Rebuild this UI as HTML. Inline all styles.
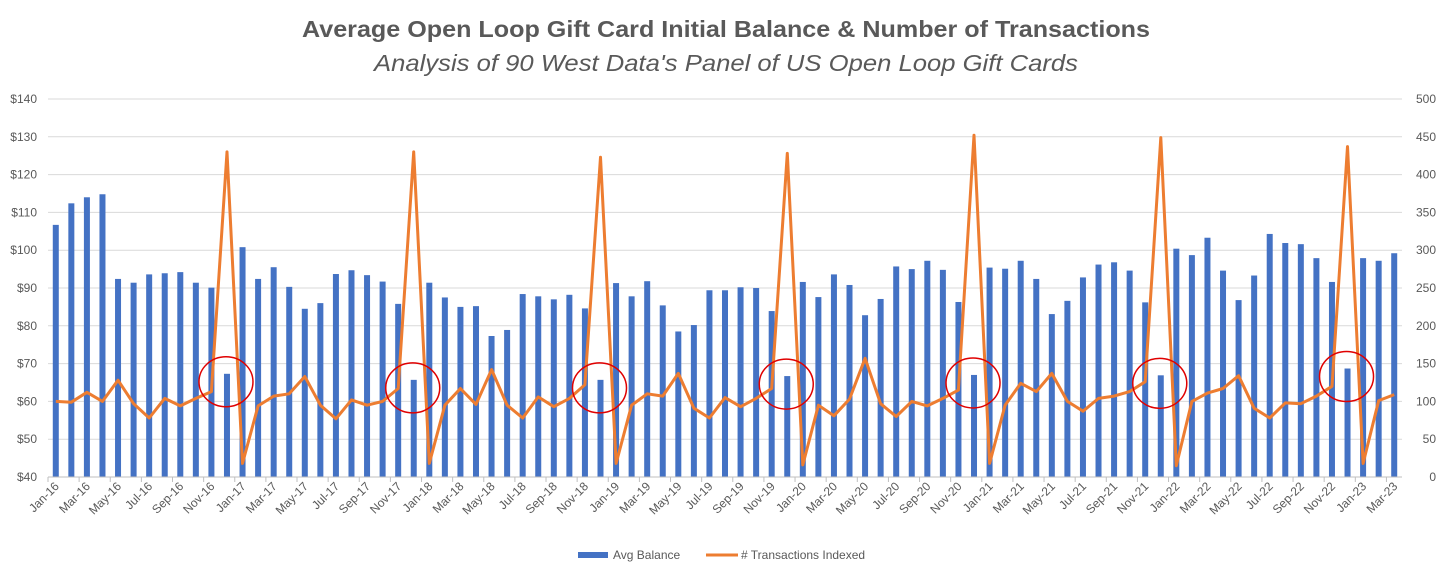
<!DOCTYPE html>
<html><head><meta charset="utf-8"><style>
body{margin:0;background:#fff;}
svg{display:block;font-family:"Liberation Sans",sans-serif;}
</style></head><body>
<svg id="chart" width="1456" height="572">
<text x="726" y="37" text-anchor="middle" font-size="23" font-weight="bold" fill="#595959" textLength="848" lengthAdjust="spacingAndGlyphs">Average Open Loop Gift Card Initial Balance &amp; Number of Transactions</text>
<text x="726" y="71" text-anchor="middle" font-size="23" font-style="italic" fill="#595959" textLength="704" lengthAdjust="spacingAndGlyphs">Analysis of 90 West Data's Panel of US Open Loop Gift Cards</text>
<g id="grid"></g><g id="bars"></g><g id="line"></g><g id="circles"></g><g id="axes"></g>
<g>
<rect x="578" y="552" width="30" height="6" fill="#4472C4"/>
<text x="613" y="559" font-size="12" fill="#595959">Avg Balance</text>
<line x1="706" y1="555" x2="738" y2="555" stroke="#ED7D31" stroke-width="3"/>
<text x="741" y="559" font-size="12" fill="#595959"># Transactions Indexed</text>
</g>
</svg>
<script>
const months=["Jan","Feb","Mar","Apr","May","Jun","Jul","Aug","Sep","Oct","Nov","Dec"];
const categories=[];
for(let y=16;y<=23;y++){for(let m=0;m<12;m++){if(y===23&&m>2)break;categories.push(months[m]+"-"+y);}}
const avgBalance=[106.7,112.4,114,114.8,92.4,91.4,93.6,93.9,94.2,91.4,90.1,67.3,
100.8,92.4,95.5,90.3,84.5,86,93.7,94.7,93.4,91.7,85.8,65.7,
91.4,87.5,85,85.2,77.3,78.9,88.4,87.8,87,88.2,84.6,65.7,
91.3,87.8,91.8,85.4,78.5,80.2,89.4,89.4,90.2,90,83.9,66.7,
91.6,87.6,93.6,90.8,82.8,87.1,95.7,95,97.2,94.8,86.3,67,
95.4,95.1,97.2,92.4,83.1,86.6,92.8,96.2,96.8,94.6,86.2,66.9,
100.4,98.7,103.3,94.6,86.8,93.3,104.3,101.9,101.6,97.9,91.6,68.7,
97.9,97.2,99.2];
const transactions=[100,99,112,100,128,97,78,104,94,104,113,430,
18,94,107,110,133,95,77,102,95,100,117,430,
18,95,117,96,142,95,78,106,93,104,122,423,
18,95,110,107,137,91,78,105,93,104,117,428,
16,95,81,103,157,97,80,100,94,104,115,452,
18,95,124,113,137,100,87,104,107,113,126,449,
15,100,111,117,134,91,78,98,97,107,120,437,
18,101,109];
const leftTicks=[40,50,60,70,80,90,100,110,120,130,140];
const rightTicks=[0,50,100,150,200,250,300,350,400,450,500];
const highlighted=["Dec-16","Dec-17","Dec-18","Dec-19","Dec-20","Dec-21","Dec-22"];

const NS="http://www.w3.org/2000/svg";
const X0=48,X1=1402,Y0=477,Y1=99;
const bw=(X1-X0)/categories.length;
const xC=i=>X0+bw*(i+0.5);
const yL=v=>Y0-(v-40)/100*(Y0-Y1);
const yR=v=>Y0-v/500*(Y0-Y1);
function mk(tag,attrs,parent){const e=document.createElementNS(NS,tag);for(const k in attrs)e.setAttribute(k,attrs[k]);parent.appendChild(e);return e;}
const grid=document.getElementById('grid'),bars=document.getElementById('bars'),lineG=document.getElementById('line'),circ=document.getElementById('circles'),axes=document.getElementById('axes');
leftTicks.forEach((t,i)=>{
  const y=yL(t);
  if(i>0){const g=mk('line',{x1:X0,x2:X1,y1:y,y2:y,stroke:'#D9D9D9','stroke-width':1},grid);
  
  }
  const tx=mk('text',{x:37,y:y+4,'text-anchor':'end','font-size':12,fill:'#595959'},axes);
  tx.textContent='$'+t;
  
  
});
rightTicks.forEach(t=>{
  const tx=mk('text',{x:1436,y:yR(t)+4,'text-anchor':'end','font-size':12,fill:'#595959'},axes);
  tx.textContent=t;
  
  
});
const ax=mk('line',{x1:X0,x2:X1,y1:Y0,y2:Y0,stroke:'#BFBFBF','stroke-width':1},axes);


avgBalance.forEach((v,i)=>{
  const r=mk('rect',{x:xC(i)-3,y:yL(v),width:6,height:Y0-yL(v),fill:'#4472C4'},bars);
  
  
});
categories.forEach((c,i)=>{
  if(i%2===0){
    const tk=mk('line',{x1:X0+bw*i,x2:X0+bw*i,y1:Y0,y2:Y0+5,stroke:'#BFBFBF'},axes);
    
    
    const x=xC(i)+4,y=Y0+10;
    const t=mk('text',{x:x,y:y,'text-anchor':'end','font-size':12,fill:'#595959',transform:`rotate(-45 ${x} ${y})`},axes);
    t.textContent=c;
    
    
  }
});
const pts=transactions.map((v,i)=>xC(i).toFixed(1)+','+yR(v).toFixed(1)).join(' ');
const pl=mk('polyline',{points:pts,fill:'none',stroke:'#ED7D31','stroke-width':3,'stroke-linejoin':'round'},lineG);


highlighted.forEach(c=>{
  const i=categories.indexOf(c);
  const e=mk('ellipse',{cx:xC(i)-1,cy:yL(avgBalance[i])+8,rx:27,ry:25,fill:'none',stroke:'#E00000','stroke-width':1.5},circ);
  
  
});
</script>
</body></html>
